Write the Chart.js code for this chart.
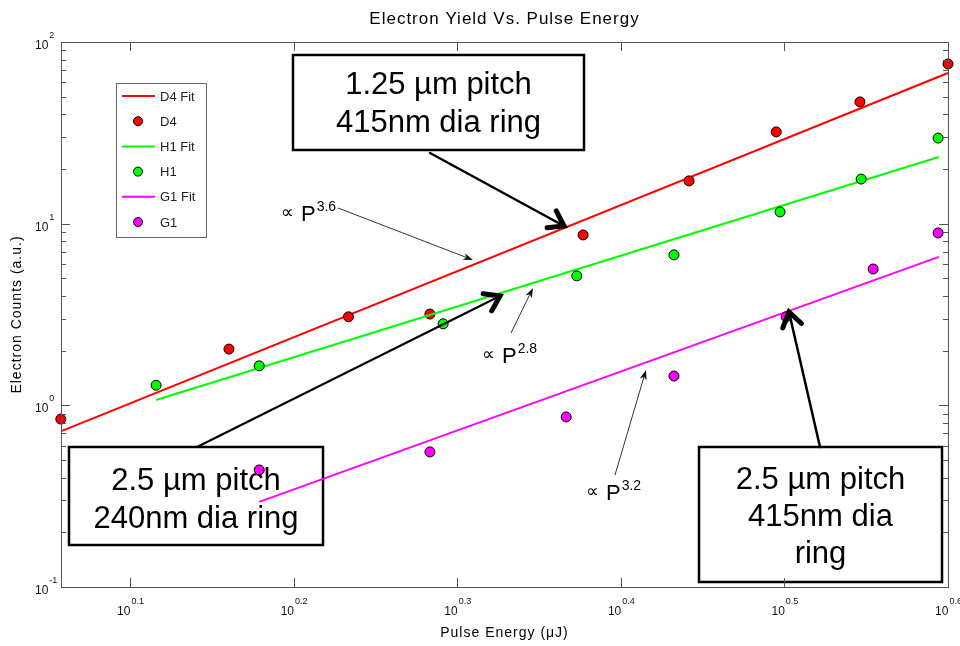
<!DOCTYPE html>
<html>
<head>
<meta charset="utf-8">
<script src="https://cdn.jsdelivr.net/npm/chart.js@4.4.0/dist/chart.umd.min.js"></script>
<style>
  html, body { margin: 0; padding: 0; background: #fff; }
  canvas { display: block; }
</style>
</head>
<body>
<canvas id="chart" width="960" height="646"></canvas>
<script>
// Valores (energia em µJ, contagens em u.a.)
const d4Energy = [1.142, 1.447, 1.712, 1.920, 2.382, 2.765, 3.126, 3.517, 3.981];
const d4Counts = [0.84, 2.04, 3.07, 3.18, 8.67, 17.2, 32.0, 46.8, 75.7];
const h1Energy = [1.306, 1.510, 1.956, 2.361, 2.707, 3.143, 3.523, 3.926];
const h1Counts = [1.29, 1.65, 2.81, 5.16, 6.73, 11.6, 17.6, 29.6];
const g1Energy = [1.510, 1.920, 2.326, 2.707, 3.170, 3.583, 3.926];
const g1Counts = [0.441, 0.554, 0.863, 1.45, 3.07, 5.63, 8.89];

// Retas de ajuste (extremos)
const d4FitEnergy = [1.144, 3.981];
const d4FitCounts = [0.723, 67.5];
const h1FitEnergy = [1.306, 3.93];
const h1FitCounts = [1.07, 23.3];
const g1FitEnergy = [1.510, 3.93];
const g1FitCounts = [0.294, 6.56];

// Expoentes dos ticks (10^n)
const xTickExps = [0.1, 0.2, 0.3, 0.4, 0.5, 0.6];
const yTickExps = [-1, 0, 1, 2];
const xMinExp = 0.0578;

const FONT = '"Liberation Sans", Arial, "DejaVu Sans", sans-serif';

const toPoints = (xs, ys) => xs.map((x, i) => ({ x: x, y: ys[i] }));

function fitSet(label, xs, ys, color, order) {
    return {
        label: label,
        data: toPoints(xs, ys),
        showLine: true,
        borderColor: color,
        backgroundColor: color,
        borderWidth: 2,
        pointRadius: 0,
        order: order,
        clip: false
    };
}

function pointSet(label, xs, ys, color, order) {
    return {
        label: label,
        data: toPoints(xs, ys),
        showLine: false,
        backgroundColor: color,
        borderColor: '#000',
        borderWidth: 1,
        pointRadius: 5,
        order: order,
        clip: false
    };
}

// Texto com expoente (ex.: 10^0.1)
function drawPow(ctx, base, exp, x, y, baseSize, expSize, rise, align) {
    ctx.font = baseSize + 'px ' + FONT;
    const wb = ctx.measureText(base).width;
    ctx.font = expSize + 'px ' + FONT;
    const we = ctx.measureText(exp).width;
    let x0 = x;
    if (align === 'center') x0 = x - (wb + we) / 2;
    if (align === 'right') x0 = x - (wb + we);
    ctx.textAlign = 'left';
    ctx.textBaseline = 'alphabetic';
    ctx.font = baseSize + 'px ' + FONT;
    ctx.fillText(base, x0, y);
    ctx.font = expSize + 'px ' + FONT;
    ctx.fillText(exp, x0 + wb + 1, y - rise);
}

// Seta grossa com ponta aberta em V
function thickArrow(ctx, x1, y1, x2, y2, lw) {
    const a = Math.atan2(y2 - y1, x2 - x1);
    const len = 17, spread = 0.6;
    ctx.save();
    ctx.strokeStyle = '#000';
    ctx.lineCap = 'round';
    ctx.lineWidth = lw;
    ctx.beginPath();
    ctx.moveTo(x1, y1);
    ctx.lineTo(x2, y2);
    ctx.stroke();
    ctx.lineWidth = 5;
    ctx.beginPath();
    ctx.moveTo(x2 - len * Math.cos(a - spread), y2 - len * Math.sin(a - spread));
    ctx.lineTo(x2, y2);
    ctx.lineTo(x2 - len * Math.cos(a + spread), y2 - len * Math.sin(a + spread));
    ctx.stroke();
    ctx.restore();
}

// Seta fina com ponta cheia
function thinArrow(ctx, x1, y1, x2, y2) {
    const a = Math.atan2(y2 - y1, x2 - x1);
    const len = 10, half = 3.5;
    ctx.save();
    ctx.strokeStyle = '#333';
    ctx.fillStyle = '#111';
    ctx.lineWidth = 1;
    ctx.beginPath();
    ctx.moveTo(x1, y1);
    ctx.lineTo(x2 - len * 0.7 * Math.cos(a), y2 - len * 0.7 * Math.sin(a));
    ctx.stroke();
    const bx = x2 - len * Math.cos(a), by = y2 - len * Math.sin(a);
    ctx.beginPath();
    ctx.moveTo(x2, y2);
    ctx.lineTo(bx + half * Math.sin(a), by - half * Math.cos(a));
    ctx.lineTo(x2 - len * 0.7 * Math.cos(a), y2 - len * 0.7 * Math.sin(a));
    ctx.lineTo(bx - half * Math.sin(a), by + half * Math.cos(a));
    ctx.closePath();
    ctx.fill();
    ctx.restore();
}

function textBox(ctx, x, y, w, h, lines, firstBaseline, lineGap) {
    ctx.save();
    ctx.fillStyle = '#fff';
    ctx.fillRect(x, y, w, h);
    ctx.strokeStyle = '#000';
    ctx.lineWidth = 2.5;
    ctx.strokeRect(x, y, w, h);
    ctx.fillStyle = '#000';
    ctx.font = '31px ' + FONT;
    ctx.textAlign = 'center';
    ctx.textBaseline = 'alphabetic';
    lines.forEach((t, i) => ctx.fillText(t, x + w / 2, firstBaseline + i * lineGap));
    ctx.restore();
}

function propLabel(ctx, x, y, exp) {
    ctx.save();
    ctx.fillStyle = '#000';
    ctx.textAlign = 'left';
    ctx.textBaseline = 'alphabetic';
    ctx.font = '18px "DejaVu Sans", ' + FONT;
    ctx.fillText('\u221D', x - 1, y - 3);
    drawPow(ctx, 'P', exp, x + 19, y, 22, 14, 10, 'left');
    ctx.restore();
}

const matlabPlugin = {
    id: 'matlabAxes',
    beforeDatasetsDraw(chart) {
        const ctx = chart.ctx;
        // Caixas de texto ficam sob os dados
        textBox(ctx, 293, 55, 291, 95, ['1.25 \u00B5m pitch', '415nm dia ring'], 94, 38);
        textBox(ctx, 69, 447, 254, 98, ['2.5 \u00B5m pitch', '240nm dia ring'], 490, 38);
        textBox(ctx, 699, 447, 243, 135, ['2.5 \u00B5m pitch', '415nm dia', 'ring'], 489, 37);
    },
    afterDatasetsDraw(chart) {
        const ctx = chart.ctx;
        const ca = chart.chartArea;
        const xs = chart.scales.x, ys = chart.scales.y;

        ctx.save();
        // Moldura dos eixos
        ctx.strokeStyle = '#555';
        ctx.lineWidth = 1;
        ctx.strokeRect(Math.round(ca.left) + 0.5, Math.round(ca.top) + 0.5,
            Math.round(ca.right - ca.left), Math.round(ca.bottom - ca.top));

        ctx.beginPath();
        // Ticks maiores em x (baixo e topo)
        xTickExps.forEach(e => {
            const px = Math.round(xs.getPixelForValue(Math.pow(10, e))) + 0.5;
            ctx.moveTo(px, ca.bottom); ctx.lineTo(px, ca.bottom - 9);
            ctx.moveTo(px, ca.top); ctx.lineTo(px, ca.top + 9);
        });
        // Ticks em y (maiores e menores, esquerda e direita)
        yTickExps.forEach((e, k) => {
            const py = Math.round(ys.getPixelForValue(Math.pow(10, e))) + 0.5;
            ctx.moveTo(ca.left, py); ctx.lineTo(ca.left + 9, py);
            ctx.moveTo(ca.right, py); ctx.lineTo(ca.right - 9, py);
            if (k < yTickExps.length - 1) {
                for (let m = 2; m <= 9; m++) {
                    const pm = Math.round(ys.getPixelForValue(m * Math.pow(10, e))) + 0.5;
                    ctx.moveTo(ca.left, pm); ctx.lineTo(ca.left + 5, pm);
                    ctx.moveTo(ca.right, pm); ctx.lineTo(ca.right - 5, pm);
                }
            }
        });
        ctx.stroke();

        // Rótulos dos ticks
        ctx.fillStyle = '#111';
        xTickExps.forEach(e => {
            const px = xs.getPixelForValue(Math.pow(10, e));
            drawPow(ctx, '10', String(e), px, 615, 12, 9, 11, 'center');
        });
        yTickExps.forEach(e => {
            const py = ys.getPixelForValue(Math.pow(10, e));
            drawPow(ctx, '10', String(e), 35, py + 7, 12, 9, 11, 'left');
        });

        // Títulos
        ctx.fillStyle = '#000';
        ctx.textAlign = 'center';
        ctx.textBaseline = 'alphabetic';
        ctx.letterSpacing = '1px';
        ctx.font = '17px ' + FONT;
        ctx.fillText('Electron Yield Vs. Pulse Energy', (ca.left + ca.right) / 2, 24);
        ctx.font = '14px ' + FONT;
        ctx.fillText('Pulse Energy (\u03BCJ)', (ca.left + ca.right) / 2, 637);
        ctx.save();
        ctx.translate(21, (ca.top + ca.bottom) / 2);
        ctx.rotate(-Math.PI / 2);
        ctx.fillText('Electron Counts (a.u.)', 0, 0);
        ctx.restore();
        ctx.letterSpacing = '0px';

        // Legenda
        const lx = 116, ly = 83, lw = 90, lh = 154;
        ctx.fillStyle = '#fff';
        ctx.fillRect(lx, ly, lw, lh);
        ctx.strokeStyle = '#666';
        ctx.lineWidth = 1;
        ctx.strokeRect(lx + 0.5, ly + 0.5, lw, lh);
        chart.data.datasets.forEach((ds, i) => {
            const cy = ly + 13 + i * 25.2;
            if (ds.showLine) {
                ctx.strokeStyle = ds.borderColor;
                ctx.lineWidth = 2;
                ctx.beginPath();
                ctx.moveTo(lx + 6, cy); ctx.lineTo(lx + 39, cy);
                ctx.stroke();
            } else {
                ctx.beginPath();
                ctx.arc(lx + 22, cy, 4.5, 0, Math.PI * 2);
                ctx.fillStyle = ds.backgroundColor;
                ctx.fill();
                ctx.strokeStyle = '#000';
                ctx.lineWidth = 1;
                ctx.stroke();
            }
            ctx.fillStyle = '#222';
            ctx.font = '13px ' + FONT;
            ctx.textAlign = 'left';
            ctx.textBaseline = 'middle';
            ctx.fillText(ds.label, lx + 44, cy + 1);
        });

        // Anotações
        thickArrow(ctx, 430, 153, 564, 226, 2.5);
        thickArrow(ctx, 197, 447, 500, 296, 2);
        thickArrow(ctx, 820, 447, 789, 312, 2.5);

        thinArrow(ctx, 338, 208, 473, 260);
        thinArrow(ctx, 511, 333, 533, 288);
        thinArrow(ctx, 615, 475, 646, 370);
        propLabel(ctx, 282, 221, '3.6');
        propLabel(ctx, 483, 363, '2.8');
        propLabel(ctx, 587, 500, '3.2');

        ctx.restore();
    }
};

new Chart(document.getElementById('chart'), {
    type: 'scatter',
    data: {
        datasets: [
            fitSet('D4 Fit', d4FitEnergy, d4FitCounts, '#ff0000', 6),
            pointSet('D4', d4Energy, d4Counts, '#ff0000', 5),
            fitSet('H1 Fit', h1FitEnergy, h1FitCounts, '#00ff00', 4),
            pointSet('H1', h1Energy, h1Counts, '#00ff00', 3),
            fitSet('G1 Fit', g1FitEnergy, g1FitCounts, '#ff00ff', 2),
            pointSet('G1', g1Energy, g1Counts, '#ff00ff', 1)
        ]
    },
    options: {
        responsive: false,
        animation: false,
        events: [],
        layout: { padding: { left: 61, top: 42, right: 12, bottom: 59 } },
        plugins: {
            legend: { display: false },
            tooltip: { enabled: false }
        },
        scales: {
            x: {
                type: 'logarithmic',
                display: false,
                min: Math.pow(10, xMinExp),
                max: Math.pow(10, xTickExps[xTickExps.length - 1])
            },
            y: {
                type: 'logarithmic',
                display: false,
                min: Math.pow(10, yTickExps[0]),
                max: Math.pow(10, yTickExps[yTickExps.length - 1])
            }
        }
    },
    plugins: [matlabPlugin]
});
</script>
</body>
</html>
